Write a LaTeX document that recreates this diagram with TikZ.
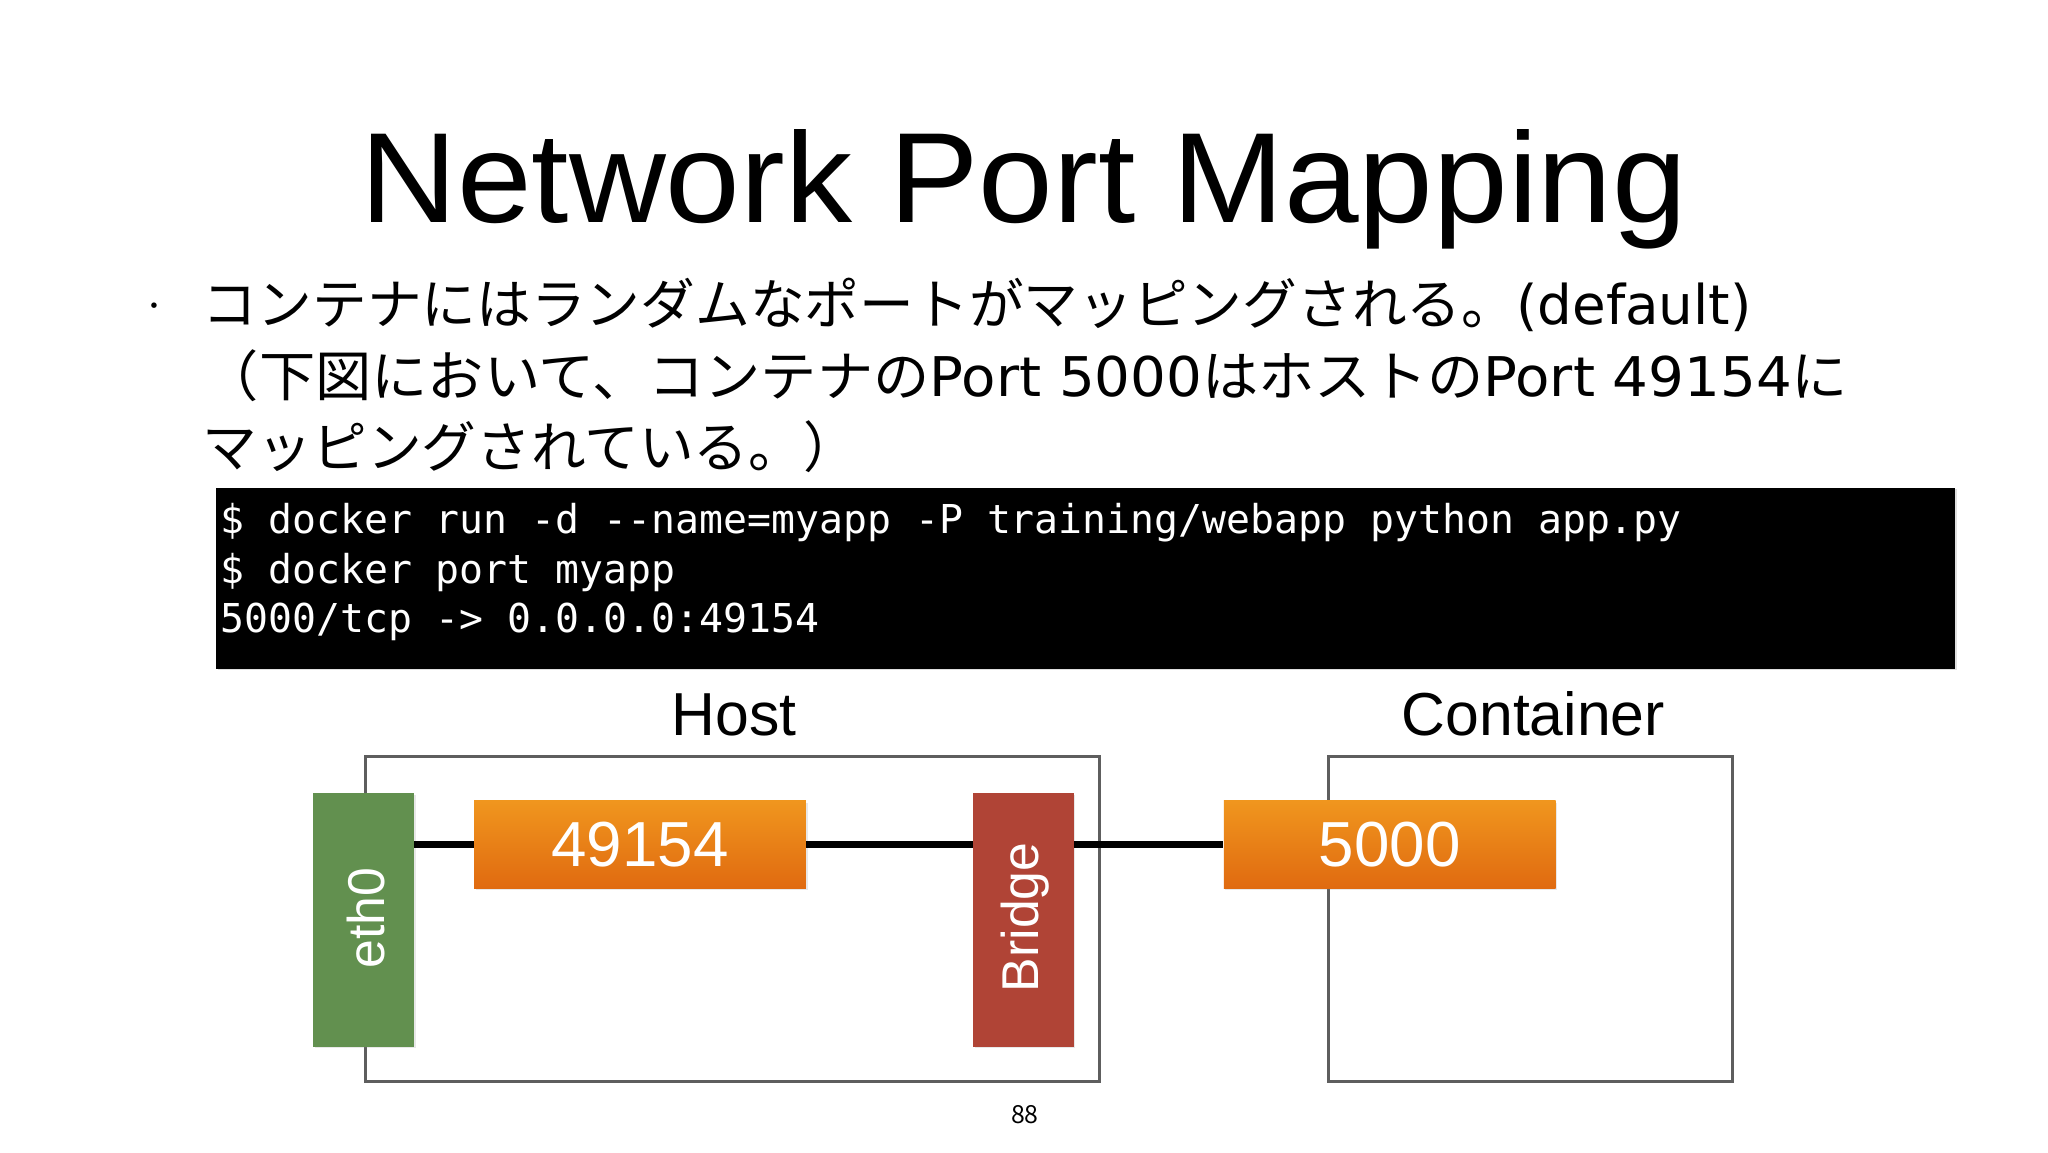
\documentclass[tikz,border=0pt]{standalone}
\usepackage{fontspec}
\setmainfont{Noto Sans CJK JP}
\newfontfamily\jp{Noto Sans CJK JP}
\newfontfamily\hel{Liberation Sans}
\newfontfamily\dvs{DejaVu Sans}
\newfontfamily\monof{DejaVu Sans Mono}
\newcommand\latn[1]{{\dvs\fontsize{27.5}{27.5}\selectfont #1}}
\usetikzlibrary{shadows}
\definecolor{ethgreen}{HTML}{62904F}
\definecolor{brred}{HTML}{B04436}
\definecolor{orTop}{HTML}{F0961E}
\definecolor{orBot}{HTML}{E06A10}
\definecolor{frame}{HTML}{5E5E5E}
\tikzset{
  boxframe/.style={draw=frame, line width=1.4pt, fill=none, inner sep=0pt, minimum height=163.5pt},
  slab/.style={inner sep=0pt, minimum width=50.5pt, minimum height=127.5pt,
    drop shadow={opacity=0.18, shadow xshift=0.8pt, shadow yshift=-0.8pt}},
  portbox/.style={inner sep=0pt, minimum width=166.75pt, minimum height=44pt,
    top color=orTop, bottom color=orBot,
    drop shadow={opacity=0.18, shadow xshift=0.8pt, shadow yshift=-0.8pt},
    text=white, font=\hel\fontsize{32}{32}\selectfont},
  vlabel/.style={rotate=90, text=white, inner sep=0pt, font=\hel\fontsize{26}{26}\selectfont},
  conn/.style={line width=3.4pt, black},
  bodytext/.style={anchor=base west, inner sep=0pt, font=\jp\fontsize{27.5}{27.5}\selectfont},
  termtext/.style={anchor=base west, inner sep=0pt, text=white, font=\monof\fontsize{20}{20}\selectfont},
  lbl/.style={anchor=base, inner sep=0pt, font=\hel\fontsize{30.5}{30.5}\selectfont},
}
\begin{document}
\begin{tikzpicture}[x=0.5pt,y=-0.5pt]
\useasboundingbox[fill=white] (0,0) rectangle (2048,1152);
\begin{scope}[scale=0.995, transform shape]

% title
\node[anchor=base, inner sep=0pt, xscale=1.045, font=\hel\fontsize{64.5}{64.5}\selectfont] (title) at (1029,224) {Network Port Mapping};

% bullet text
\node[anchor=center, inner sep=0pt, font=\jp\fontsize{13}{13}\selectfont] (bullet) at (155,311) {・};
\node[bodytext] (l1) at (203.5,326) {コンテナにはランダムなポートがマッピングされる。\latn{(default)}};
\node[bodytext, xscale=1.028] (l2) at (203.5,398) {（下図において、コンテナの\latn{Port 5000}はホストの\latn{Port 49154}に};
\node[bodytext] (l3) at (203.5,470) {マッピングされている。）};

% terminal
\node[fill=black, inner sep=0pt, minimum width=874pt, minimum height=91pt,
  drop shadow={opacity=0.25, shadow xshift=0.8pt, shadow yshift=-0.8pt}] (term) at (1091,581) {};
\node[termtext] (t1) at (221,536) {\$ docker run -d --name=myapp -P training/webapp python app.py};
\node[termtext] (t2) at (221,586) {\$ docker port myapp};
\node[termtext] (t3) at (221,636) {5000/tcp -> 0.0.0.0:49154};

% frames and labels
\node[boxframe, minimum width=368.9pt] (host) at (736.5,923.5) {};
\node[boxframe, minimum width=203pt] (cont) at (1538,923.5) {};
\node[lbl] (hostlbl) at (738,739) {Host};
\node[lbl] (contlbl) at (1541,739) {Container};

% components
\node[slab, fill=ethgreen] (eth0) at (365.5,924.5) {};
\node[slab, fill=brred] (bridge) at (1028.5,924.5) {};
\node[portbox] (p49154) at (643.25,849) {49154};
\node[portbox] (p5000) at (1396.75,849) {5000};
\node[vlabel] (ethtxt) at (367.6,923) {eth0};
\node[vlabel] (brtxt) at (1030,922) {Bridge};

% connectors
\draw[conn] (eth0.east |- p49154.west) -- (p49154.west);
\draw[conn] (p49154.east) -- (bridge.west |- p49154.east);
\draw[conn] (bridge.east |- p5000.west) -- (p5000.west);

% page number
\node[inner sep=0pt, font=\jp\fontsize{12.5}{12.5}\selectfont] (pnum) at (1030,1120) {88};
\end{scope}
\end{tikzpicture}
\end{document}
